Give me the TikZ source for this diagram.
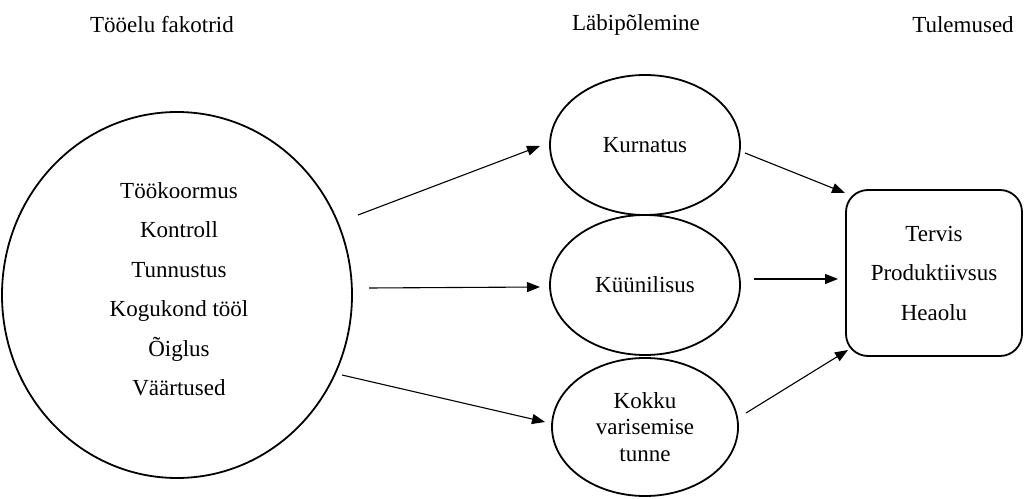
\documentclass[tikz,border=0pt]{standalone}
\usepackage{fontspec}
\setmainfont{Liberation Serif}
\usetikzlibrary{shapes.geometric,arrows.meta}
\begin{document}
\begin{tikzpicture}[x=1pt,y=1pt,
  txt/.style={font=\fontsize{23}{39.5}\selectfont, align=center, inner sep=0pt},
  oval/.style={ellipse, draw, line width=1.8pt, inner sep=0pt},
  outbox/.style={draw, line width=1.8pt, rounded corners=22pt, inner sep=0pt},
  arr/.style={line width=1.1pt, -{Triangle[length=13pt,width=10pt]}}]
\useasboundingbox (0,0) rectangle (1024,498);
% headings
\node[txt] (h1) at (162,473) {Tööelu fakotrid};
\node[txt] (h2) at (636,473) {Läbipõlemine};
\node[txt] (h3) at (963,473) {Tulemused};
% factors
\node[oval, minimum width=350pt, minimum height=366pt] (factors) at (177,203) {};
\node[txt] (factorlist) at (179,209) {Töökoormus\\Kontroll\\Tunnustus\\Kogukond tööl\\Õiglus\\Väärtused};
% burnout
\node[oval, minimum width=190pt, minimum height=140pt, txt] (kurn) at (645,353) {Kurnatus};
\node[oval, minimum width=190pt, minimum height=140pt, txt] (kuun) at (645,213) {Küünilisus};
\node[oval, minimum width=186pt, minimum height=138pt, txt, font=\fontsize{23}{26.5}\selectfont] (kokku) at (645,71) {Kokku\\varisemise\\tunne};
% outcomes
\node[outbox, minimum width=176pt, minimum height=166pt, txt] (out) at (934,225) {Tervis\\Produktiivsus\\Heaolu};
% connector ends
\coordinate (a1s) at (358,283); \coordinate (a1e) at (540,352);
\coordinate (a2s) at (369,210); \coordinate (a2e) at (540,211);
\coordinate (a3s) at (342,123); \coordinate (a3e) at (545,76);
\coordinate (a4s) at (745,345); \coordinate (a4e) at (845,305);
\coordinate (a5s) at (754,219); \coordinate (a5e) at (838,219);
\coordinate (a6s) at (746,85);  \coordinate (a6e) at (848,148);
\draw[arr] (a1s) -- (a1e);
\draw[arr] (a2s) -- (a2e);
\draw[arr] (a3s) -- (a3e);
\draw[arr] (a4s) -- (a4e);
\draw[arr] (a5s) -- (a5e);
\draw[arr] (a6s) -- (a6e);
\end{tikzpicture}
\end{document}
